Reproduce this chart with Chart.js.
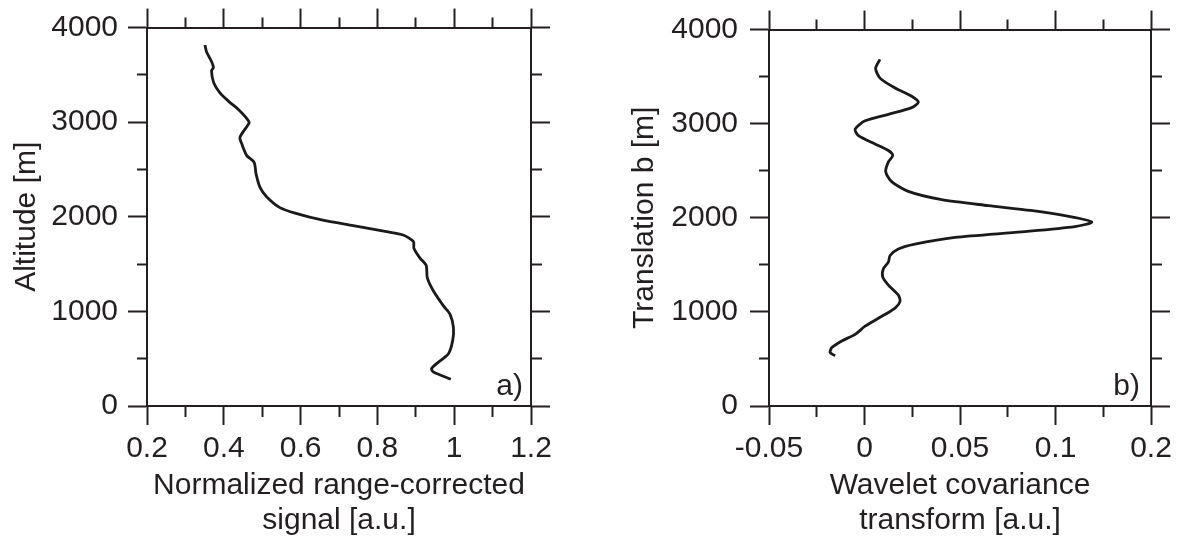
<!DOCTYPE html>
<html>
<head>
<meta charset="utf-8">
<script src="https://cdn.jsdelivr.net/npm/chart.js@4"></script>
<style>
  html, body { margin: 0; padding: 0; background: #fff; }
  #wrap { position: relative; width: 1179px; height: 539px; overflow: hidden; }
  canvas { position: absolute; top: 0; }
  #chart-a { left: 0; }
  #chart-b { left: 589px; }
</style>
</head>
<body>
<div id="wrap">
  <canvas id="chart-a" width="589" height="539"></canvas>
  <canvas id="chart-b" width="590" height="539"></canvas>
</div>
<script>
// panel a) - normalized range-corrected signal vs altitude
var signalValues = [0.351, 0.355, 0.368, 0.373, 0.368, 0.374, 0.390, 0.412, 0.438, 0.458, 0.466, 0.455, 0.442, 0.447,
  0.460, 0.479, 0.484, 0.494, 0.512, 0.546, 0.588, 0.655, 0.737, 0.824, 0.867, 0.894, 0.895, 0.911, 0.927,
  0.930, 0.946, 0.972, 0.989, 0.998, 0.996, 0.985, 0.959, 0.941, 0.946, 0.991];
var signalAltitudes = [3815, 3745, 3641, 3578, 3543, 3414, 3309, 3222, 3134, 3047, 2995, 2925, 2838, 2768,
  2646, 2576, 2453, 2314, 2209, 2097, 2036, 1966, 1906, 1843, 1808, 1738, 1668, 1563, 1487,
  1354, 1215, 1058, 971, 830, 691, 552, 464, 395, 359, 283];

// panel b) - wavelet covariance transform vs translation
var wctValues = [0.0081, 0.0058, 0.0081, 0.0160, 0.0247, 0.0282, 0.0247, 0.0125, 0.0003, -0.0049, -0.0032, 0.0055,
  0.0125, 0.0148, 0.0125, 0.0111, 0.0142, 0.0229, 0.0404, 0.0648, 0.0870, 0.1070, 0.1190, 0.1102, 0.0823, 0.0474,
  0.0264, 0.0177, 0.0134, 0.0125, 0.0099, 0.0095, 0.0125, 0.0177, 0.0186, 0.0160, 0.0091, 0.0003, -0.0049,
  -0.0119, -0.0171, -0.0180, -0.0154];
var wctAltitudes = [3683, 3588, 3484, 3379, 3291, 3228, 3170, 3099, 3030, 2942, 2872, 2785,
  2715, 2663, 2594, 2489, 2384, 2280, 2192, 2129, 2078, 2015, 1955, 1906, 1850, 1791,
  1720, 1668, 1599, 1529, 1459, 1372, 1285, 1180, 1110, 1040, 953, 848, 761,
  691, 621, 569, 534];

var signalTicks = [0.2, 0.4, 0.6, 0.8, 1, 1.2];
var signalTickLabels = ['0.2', '0.4', '0.6', '0.8', '1', '1.2'];
var wctTicks = [-0.05, 0, 0.05, 0.1, 0.15];
var wctTickLabels = ['-0.05', '0', '0.05', '0.1', '0.2'];
var altTicks = [0, 1000, 2000, 3000, 4000];
var altTickLabels = ['0', '1000', '2000', '3000', '4000'];

(function () {
  var ink = '#231f20';
  var font = { family: '"Liberation Sans", Arial, sans-serif', size: 30, lineHeight: 1.17 };
  var majorLen = 19;
  var minorLen = 10;

  function majorIndex(list, value) {
    for (var i = 0; i < list.length; i++) {
      if (Math.abs(list[i] - value) < 1e-6 * Math.max(1, Math.abs(value))) return i;
    }
    return -1;
  }

  function toPoints(xs, ys) {
    return xs.map(function (x, i) { return { x: x, y: ys[i] }; });
  }

  // tick marks: major full length, minor only the part next to the frame
  function tickDash(list, outerFirst) {
    return function (ctx) {
      if (!ctx.tick || majorIndex(list, ctx.tick.value) >= 0) return [];
      return outerFirst ? [0, majorLen - minorLen, minorLen, 200] : [minorLen, 200];
    };
  }

  function axis(opts) {
    return {
      type: 'linear',
      position: opts.position,
      min: opts.min,
      max: opts.max,
      border: { display: true, color: ink, width: 2 },
      grid: {
        drawOnChartArea: false,
        drawTicks: true,
        tickLength: majorLen,
        tickWidth: 2,
        tickColor: ink,
        tickBorderDash: tickDash(opts.majors, opts.position === 'top' || opts.position === 'left')
      },
      ticks: {
        display: !!opts.labels,
        stepSize: opts.step,
        color: ink,
        font: font,
        padding: opts.padding || 0,
        maxRotation: 0,
        autoSkip: false,
        callback: function (value) {
          var idx = majorIndex(opts.majors, value);
          return idx >= 0 && opts.labels ? opts.labels[idx] : '';
        }
      },
      title: opts.title ? {
        display: true,
        text: opts.title,
        color: ink,
        font: font,
        padding: opts.titlePadding
      } : { display: false },
      afterFit: function (scale) {
        if (scale.isHorizontal()) scale.height = opts.size;
        else scale.width = opts.size;
      }
    };
  }

  var panelTag = {
    id: 'panelTag',
    afterDraw: function (chart, args, opts) {
      var ctx = chart.ctx;
      var area = chart.chartArea;
      ctx.save();
      ctx.fillStyle = ink;
      ctx.font = '30px "Liberation Sans", Arial, sans-serif';
      ctx.textAlign = 'right';
      ctx.textBaseline = 'alphabetic';
      ctx.fillText(opts.text, area.right - opts.dx, area.bottom - 11);
      ctx.restore();
    }
  };

  function makePanel(canvasId, cfg) {
    return new Chart(document.getElementById(canvasId), {
      type: 'scatter',
      data: {
        datasets: [{
          data: toPoints(cfg.xs, cfg.ys),
          showLine: true,
          borderColor: '#1a1a1a',
          borderWidth: 2.8,
          pointRadius: 0,
          tension: 0.25,
          fill: false,
          xAxisID: 'x',
          yAxisID: 'y'
        }]
      },
      options: {
        responsive: false,
        animation: false,
        devicePixelRatio: 1,
        layout: { padding: 0 },
        plugins: {
          legend: { display: false },
          tooltip: { enabled: false },
          panelTag: { text: cfg.tag, dx: cfg.tagDx }
        },
        scales: {
          x: axis({ position: 'bottom', min: cfg.xMin, max: cfg.xMax, step: cfg.xStep, majors: cfg.xMajors,
            labels: cfg.xLabels, padding: 6, size: 133, title: cfg.xTitle, titlePadding: { top: 0, bottom: 1 } }),
          x2: axis({ position: 'top', min: cfg.xMin, max: cfg.xMax, step: cfg.xStep, majors: cfg.xMajors, size: 25 }),
          y: axis({ position: 'left', min: 0, max: 4000, step: 500, majors: altTicks, labels: altTickLabels,
            padding: cfg.yPad, size: cfg.leftSize, title: cfg.yTitle, titlePadding: { top: cfg.yTitlePad, bottom: 0 } }),
          y2: axis({ position: 'right', min: 0, max: 4000, step: 500, majors: altTicks, size: cfg.rightSize })
        }
      },
      plugins: [panelTag]
    });
  }

  makePanel('chart-a', {
    xs: signalValues, ys: signalAltitudes,
    xMin: 0.2, xMax: 1.2, xStep: 0.1, xMajors: signalTicks, xLabels: signalTickLabels,
    xTitle: ['Normalized range-corrected', 'signal [a.u.]'],
    yTitle: 'Altitude [m]', yTitlePad: 9, yPad: 10,
    leftSize: 147, rightSize: 58, tag: 'a)', tagDx: 8
  });

  makePanel('chart-b', {
    xs: wctValues, ys: wctAltitudes,
    xMin: -0.05, xMax: 0.15, xStep: 0.025, xMajors: wctTicks, xLabels: wctTickLabels,
    xTitle: ['Wavelet covariance', 'transform [a.u.]'],
    yTitle: 'Translation b [m]', yTitlePad: 38, yPad: 12,
    leftSize: 180, rightSize: 28, tag: 'b)', tagDx: 11
  });
})();
</script>
</body>
</html>
